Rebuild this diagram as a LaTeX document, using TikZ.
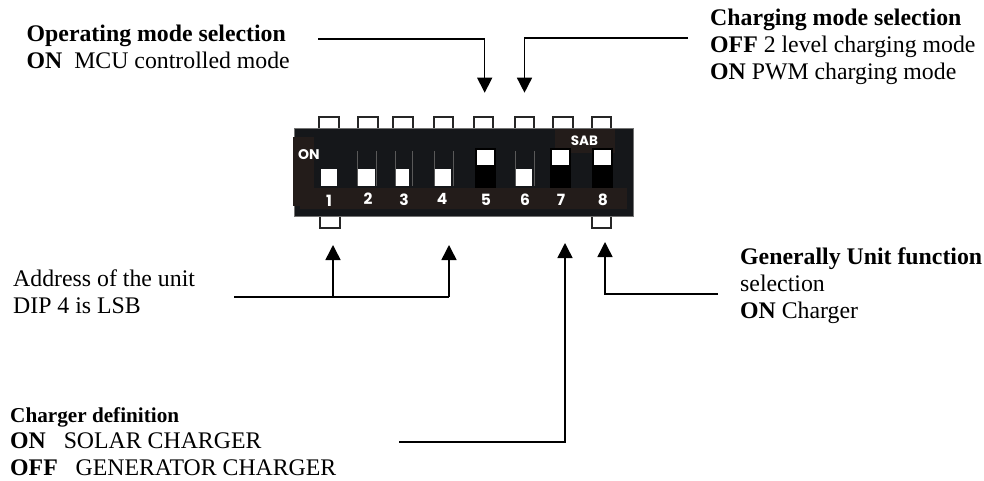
\documentclass[tikz,border=0pt]{standalone}
\usepackage{fontspec}
\setmainfont{Liberation Serif}
\newfontfamily\chipfont{Poppins}
\usetikzlibrary{arrows.meta}
\definecolor{chip}{HTML}{15171A}
\definecolor{strip}{HTML}{231C1A}
\tikzset{
  x=1pt,y=-1pt,
  lbl/.style={anchor=north west,align=left,inner sep=0pt,font=\fontsize{23.8}{27}\selectfont},
  lblsmall/.style={anchor=north west,inner sep=0pt,font=\fontsize{21.2}{24}\selectfont\bfseries},
  num/.style={text=white,font=\chipfont\fontsize{15.5}{16}\selectfont\bfseries,inner sep=0pt},
  pin/.style={draw=black!85,line width=2pt,fill=white},
  link/.style={line width=1.5pt,black},
  arr/.style={link,-{Triangle[length=15pt,width=15pt]}},
}
\begin{document}
\begin{tikzpicture}
\useasboundingbox (0,0) rectangle (984,481);
% pins
\foreach \a/\b in {319/339,358/378,393/413,434/453,474/493,515/534,553/573,592/611}
  \draw[pin] (\a,128) -- (\a,117) -- (\b,117) -- (\b,128);
\draw[pin] (320,216) -- (320,228) -- (340,228) -- (340,216);
\draw[pin] (592,216) -- (592,228) -- (611,228) -- (611,216);
% body
\node[fill=chip,draw=black!55,line width=.6pt,inner sep=0pt,anchor=north west,minimum width=339pt,minimum height=88pt] (body) at (294,128) {};
\fill[strip] (293,137) rectangle (314,206);
\fill[strip] (300,188) rectangle (627,209);
\fill[strip] (555,129) rectangle (615,153);
% switches down
\foreach \a/\b in {321/337,358/375,395/409,435/451,515/532}
  \fill[white] (\a,169) rectangle (\b,186);
\foreach \x in {357,376,395,412,434,453,515,534}
  \draw[gray!70!black,line width=.5pt] (\x,151) -- (\x,186);
% switches up
\foreach \a/\b in {477/494,552/569,594/611}{
  \fill[black] (\a-2,148) rectangle (\b+2,188);
  \fill[white] (\a,150) rectangle (\b,165);
}
% texts on chip
\node[text=white,font=\chipfont\fontsize{14}{14}\selectfont\bfseries,inner sep=0pt] (onlbl) at (309,155) {ON};
\node[text=white,font=\chipfont\fontsize{13.5}{13.5}\selectfont\bfseries,inner sep=0pt] (sab) at (584.5,141) {SAB};
\foreach \n/\x/\y in {1/329/201,2/368/199,3/404/200,4/442/199,5/486/200,6/525/200,7/561/200,8/603/200}
  \node[num] (n\n) at (\x,\y) {\n};
% labels
\node[lbl] (opm) at (26.5,24.5) {\textbf{Operating mode selection}\\\textbf{ON}\ \ MCU controlled mode};
\node[lbl] (chm) at (710,8.5) {\textbf{Charging mode selection}\\\textbf{OFF} 2 level charging mode\\\textbf{ON} PWM charging mode};
\node[lbl] (addr) at (13,269.5) {Address of the unit\\DIP 4 is LSB};
\node[lbl] (gen) at (740,247.5) {\textbf{Generally Unit function}\\selection\\\textbf{ON} Charger};
\node[lblsmall] (chd0) at (10,407.5) {Charger definition};
\node[lbl] (chd) at (10,432.5) {\textbf{ON}\ \ \ SOLAR CHARGER\\\textbf{OFF}\ \ \ GENERATOR CHARGER};
% connectors
\coordinate (a5s) at (318,39); \coordinate (a5c) at (484.7,39); \coordinate (a5e) at (484.7,92.7);
\coordinate (a6s) at (688,38); \coordinate (a6c) at (524.5,38); \coordinate (a6e) at (524.5,92.7);
\coordinate (ads) at (234,297); \coordinate (adc1) at (333,297); \coordinate (adc4) at (449,297);
\coordinate (ade1) at (333,245); \coordinate (ade4) at (449,245);
\coordinate (chs) at (399,442); \coordinate (chc) at (565,442); \coordinate (che) at (565,243);
\coordinate (ges) at (718,294); \coordinate (gec) at (605,294); \coordinate (gee) at (605,242);
\draw[arr] (a5s) -- (a5c) -- (a5e);
\draw[arr] (a6s) -- (a6c) -- (a6e);
\draw[link] (ads) -- (adc4);
\draw[arr] (adc1) -- (ade1);
\draw[arr] (adc4) -- (ade4);
\draw[arr] (chs) -- (chc) -- (che);
\draw[arr] (ges) -- (gec) -- (gee);
\end{tikzpicture}
\end{document}
